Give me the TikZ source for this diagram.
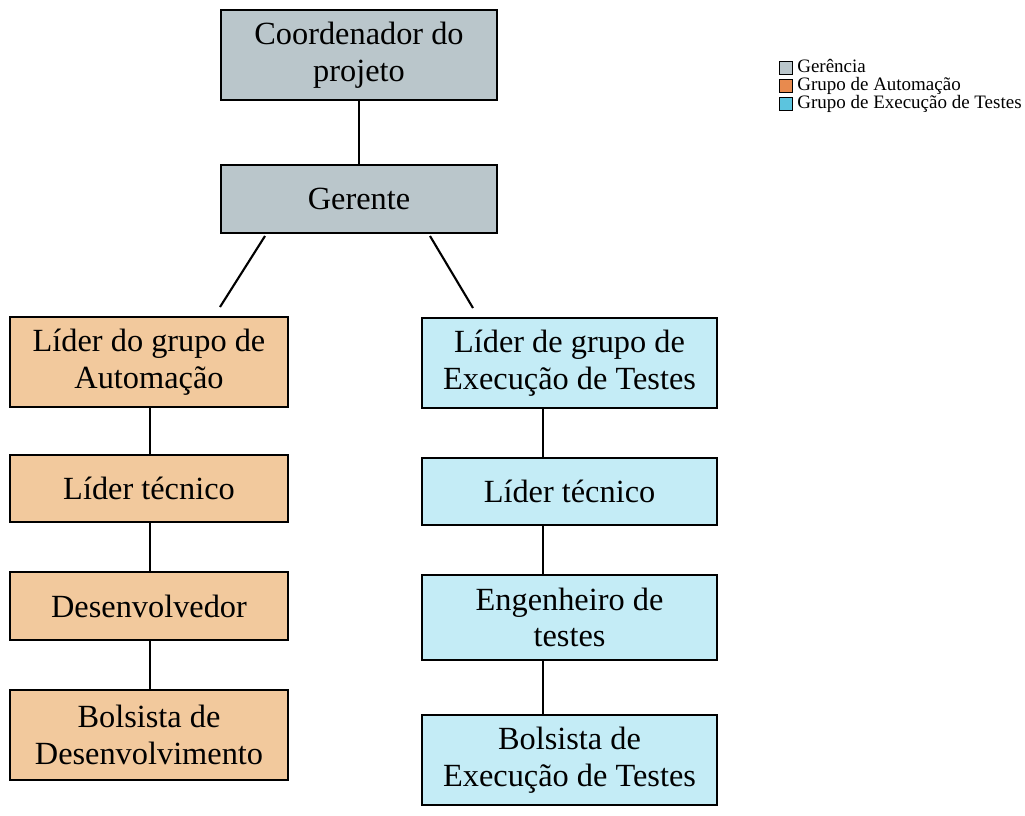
\documentclass[tikz,border=0pt]{standalone}
\usepackage{fontspec}
\setmainfont{Liberation Serif}
\definecolor{gercol}{RGB}{186,198,203}
\definecolor{autcol}{RGB}{242,201,157}
\definecolor{execol}{RGB}{196,236,246}
\definecolor{autleg}{RGB}{232,138,78}
\definecolor{exeleg}{RGB}{92,196,222}
\begin{document}
\begin{tikzpicture}[x=0.025cm,y=-0.025cm,
        box/.style={draw,line width=1pt,align=center,inner sep=0pt,
            font=\fontsize{23}{26}\selectfont},
        legbox/.style={draw,line width=0.6pt,minimum size=0.32cm,inner sep=0pt},
        leg/.style={right,font=\fontsize{13.5}{15}\selectfont,inner xsep=3pt,inner ysep=0pt,
            text height=9pt,text depth=2.5pt}]
        \useasboundingbox (0,0) rectangle (1025,815);
        % gerencia
        \node[box,fill=gercol,minimum width=6.9cm,minimum height=2.25cm] (coord) at (359,55) {Coordenador do\\projeto};
        \node[box,fill=gercol,minimum width=6.9cm,minimum height=1.7cm] (ger) at (359,199) {Gerente};
        % grupo de automacao
        \node[box,fill=autcol,minimum width=6.95cm,minimum height=2.25cm] (lidaut) at (149,362) {Líder do grupo de\\Automação};
        \node[box,fill=autcol,minimum width=6.95cm,minimum height=1.68cm] (tecaut) at (149,488.5) {Líder técnico};
        \node[box,fill=autcol,minimum width=6.95cm,minimum height=1.7cm] (dev) at (149,606) {Desenvolvedor};
        \node[box,fill=autcol,minimum width=6.95cm,minimum height=2.25cm] (bolsaut) at (149,735) {Bolsista de\\Desenvolvimento};
        % grupo de execucao de testes
        \node[box,fill=execol,minimum width=7.38cm,minimum height=2.25cm] (lidexe) at (569.5,363) {Líder de grupo de\\Execução de Testes};
        \node[box,fill=execol,minimum width=7.38cm,minimum height=1.68cm] (tecexe) at (569.5,491.5) {Líder técnico};
        \node[box,fill=execol,minimum width=7.38cm,minimum height=2.12cm] (eng) at (569.5,617.5) {Engenheiro de\\testes};
        \node[box,fill=execol,minimum width=7.38cm,minimum height=2.25cm] (bolsexe) at (569.5,760) {Bolsista de\\Execução de Testes};
        % ligacoes
        \coordinate (lx) at (150,0);
        \coordinate (rx) at (543,0);
        \draw[line width=1pt] (coord) -- (ger);
        \draw[line width=1.5pt] (265,236) coordinate (g1) -- (220,307) coordinate (a1);
        \draw[line width=1.5pt] (430,236) coordinate (g2) -- (473,308) coordinate (e1);
        \draw[line width=1pt] (lidaut.south -| lx) -- (tecaut.north -| lx);
        \draw[line width=1pt] (tecaut.south -| lx) -- (dev.north -| lx);
        \draw[line width=1pt] (dev.south -| lx) -- (bolsaut.north -| lx);
        \draw[line width=1pt] (lidexe.south -| rx) -- (tecexe.north -| rx);
        \draw[line width=1pt] (tecexe.south -| rx) -- (eng.north -| rx);
        \draw[line width=1pt] (eng.south -| rx) -- (bolsexe.north -| rx);
        % legenda
        \node[legbox,fill=gercol] (l1) at (786,68) {};
        \node[legbox,fill=autleg] (l2) at (786,86) {};
        \node[legbox,fill=exeleg] (l3) at (786,104) {};
        \node[leg] (t1) at (l1.east) {Gerência};
        \node[leg] (t2) at (l2.east) {Grupo de Automação};
        \node[leg] (t3) at (l3.east) {Grupo de Execução de Testes};
\end{tikzpicture}
\end{document}
